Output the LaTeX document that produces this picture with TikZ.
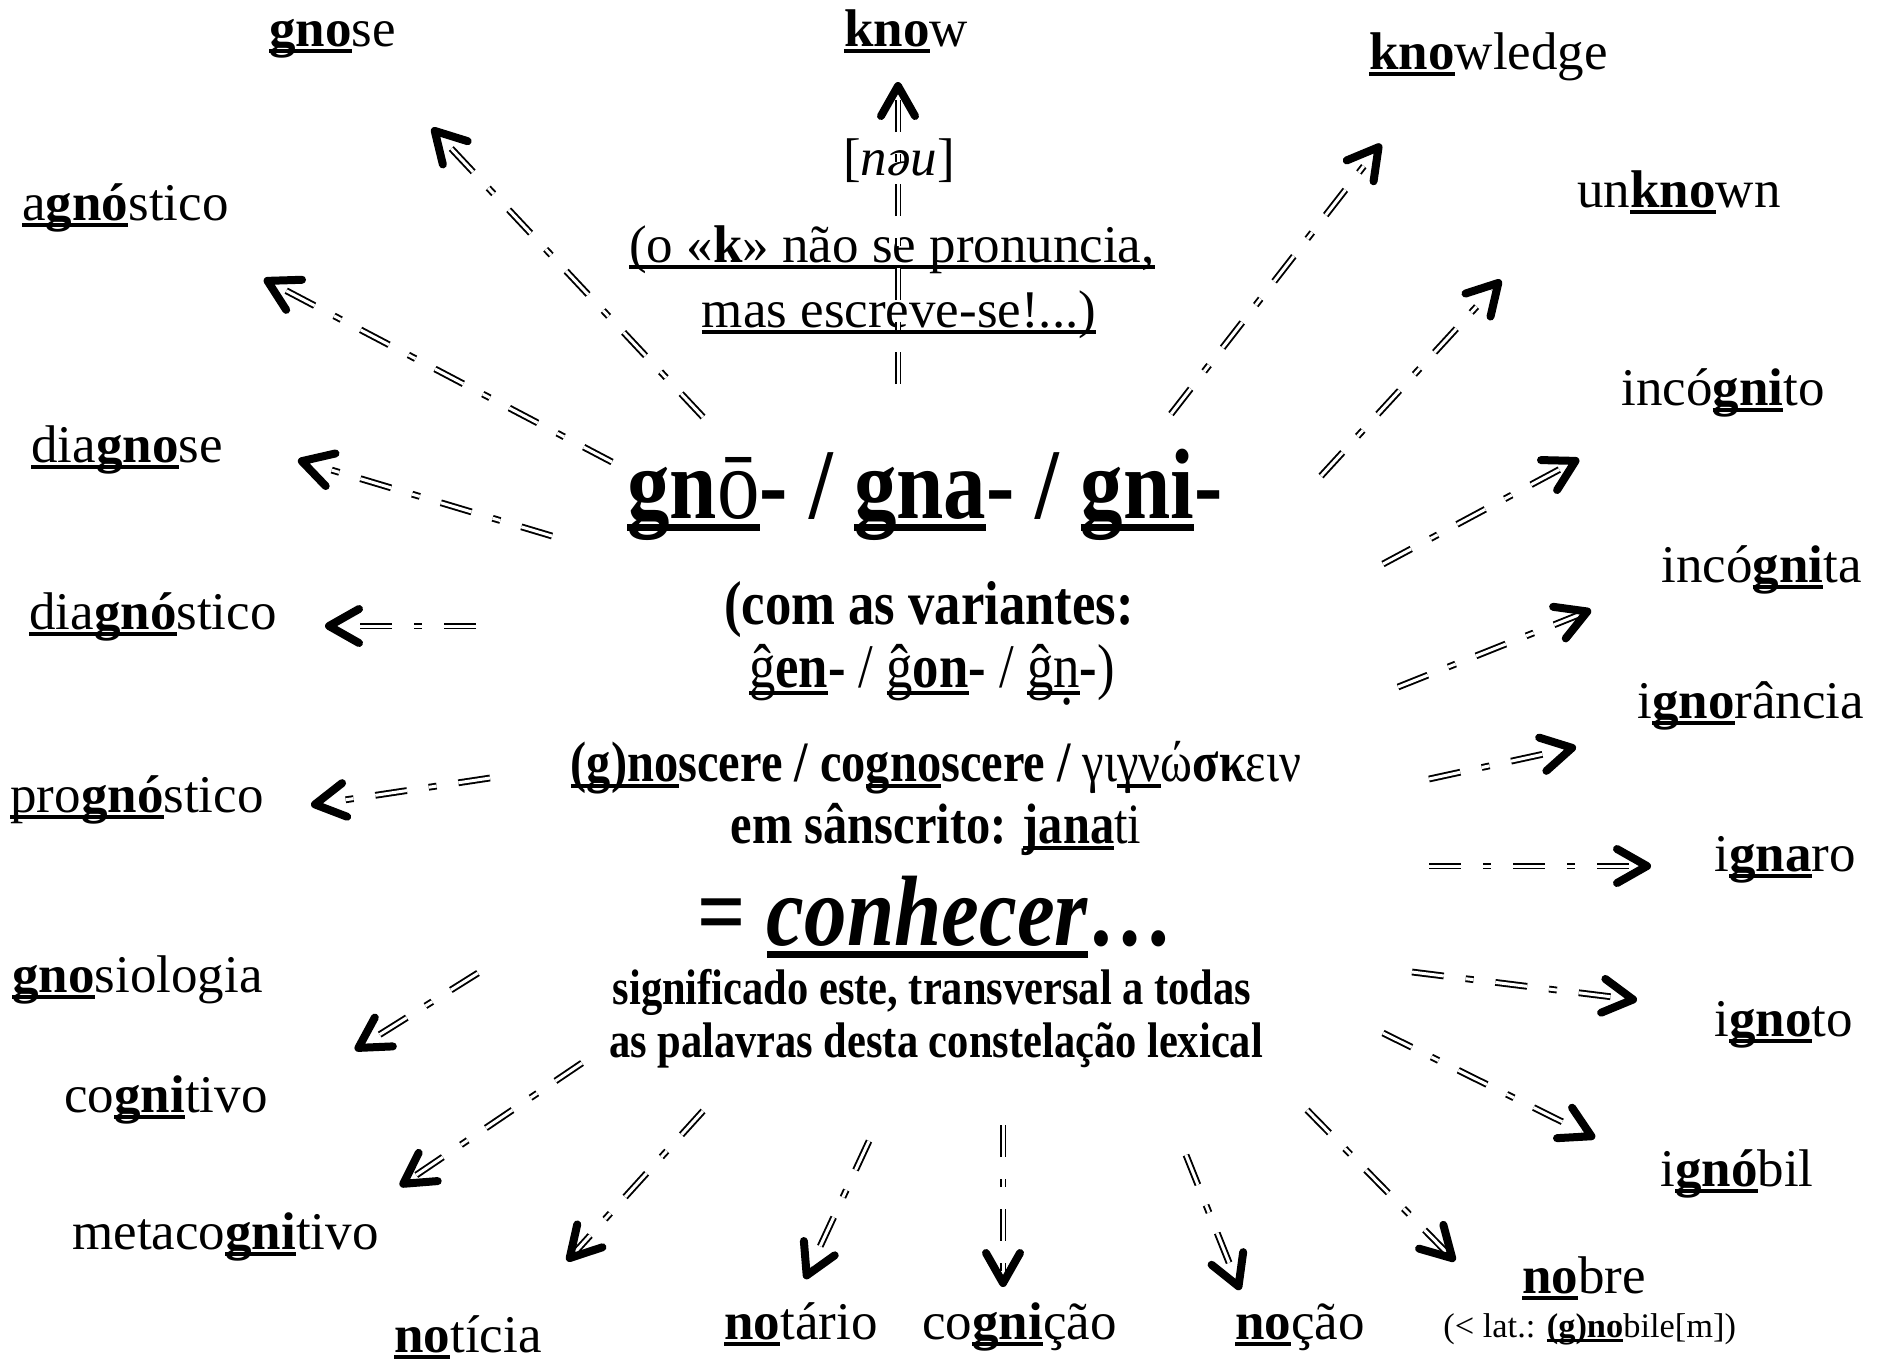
\documentclass[tikz,border=0pt]{standalone}
\usepackage{fontspec}
\setmainfont{Liberation Serif}
\newfontfamily\cfont[FakeStretch=0.85]{Liberation Serif}
\usetikzlibrary{arrows.meta,calc}

\newsavebox\ulbox
\newcommand\undl[1]{\sbox\ulbox{#1}\rlap{\rule[-0.13em]{\wd\ulbox}{0.07em}}\usebox\ulbox}
\newcommand\fs[1]{\fontsize{#1}{#1}\selectfont}
\newcommand\ndot{\ooalign{n\cr\hidewidth\raisebox{-0.6ex}{.}\hidewidth\cr}}

\tikzset{
  word/.style={inner sep=0pt, anchor=base west, font=\fs{26.5}},
  core/.style={inner sep=0pt, anchor=base},
  shaft/.style={double, double distance=1.5pt, line width=0.95pt,
    dash pattern=on 16pt off 11pt on 4pt off 11pt, shorten >=3pt},
  head/.style={-{Straight Barb[length=15pt, width=17pt, line width=4pt, round]}, line width=0.8pt}
}
\newcommand\ligar[2]{\draw[shaft] (#1) -- (#2); \draw[head] ($(#2)!2pt!(#1)$) -- (#2);}

\begin{document}
\begin{tikzpicture} [x=0.5pt, y=-0.5pt]
\useasboundingbox (0,0) rectangle (1883,1362);
% root in the middle
\node [core, font=\fs{26.5}] (nau) at (899,175) {[\textit{nəu}]};
\node [core, font=\fs{26.5}] (k1) at (892,262) {\undl{(o «\textbf{k}» não se pronuncia,}};
\node [core, font=\fs{26.5}] (k2) at (899,327) {\undl{mas escreve-se!...)}};
\node [core, font=\cfont\bfseries\fs{50}] (root) at (925,518)
  {\undl{gn{\mdseries ō}}- / \undl{gna}- / \undl{gni}-};
\node [core, font=\cfont\bfseries\fs{31}] (var1) at (929,624) {(com as variantes:};
\node [core, font=\cfont\fs{31}] (var2) at (932,687)
  {\undl{ĝ\textbf{en}}\textbf{-} / \undl{ĝ\textbf{on}}\textbf{-} / \undl{ĝ\ndot}\textbf{-})};
\node [core, font=\cfont\bfseries\fs{28.5}] (lat1) at (936,781)
  {\undl{(g)no}scere / co\undl{gno}scere / {\mdseries γι\undl{γν}ώ\textbf{σκ}ειν}};
\node [core, font=\cfont\bfseries\fs{28.5}] (lat2) at (936,843) {em sânscrito: \undl{jana}{\mdseries ti}};
\node [core, font=\cfont\bfseries\fs{50}] (mean) at (935,945) {= \undl{\itshape conhecer}…};
\node [core, font=\cfont\bfseries\fs{25}] (gl1) at (932,1004) {significado este, transversal a todas};
\node [core, font=\cfont\bfseries\fs{25}] (gl2) at (936,1057) {as palavras desta constelação lexical};

% words round it
\node [word] (gnose) at (269,46) {\undl{\textbf{gno}}se};
\node [word] (know) at (844,46) {\undl{\textbf{kno}}w};
\node [word] (knowledge) at (1369,69) {\undl{\textbf{kno}}wledge};
\node [word] (agnostico) at (22,220) {\undl{a\textbf{gnó}}stico};
\node [word] (unknown) at (1577,207) {un\undl{\textbf{kno}}wn};
\node [word] (diagnose) at (31,462) {\undl{dia\textbf{gno}}se};
\node [word] (incognito) at (1621,405) {incó\undl{\textbf{gni}}to};
\node [word] (incognita) at (1661,582) {incó\undl{\textbf{gni}}ta};
\node [word] (diagnostico) at (29,629) {\undl{dia\textbf{gnó}}stico};
\node [word] (ignorancia) at (1637,718) {i\undl{\textbf{gno}}rância};
\node [word] (prognostico) at (10,812) {\undl{pro\textbf{gnó}}stico};
\node [word] (ignaro) at (1714,871) {i\undl{\textbf{gna}}ro};
\node [word] (gnosiologia) at (12,992) {\undl{\textbf{gno}}siologia};
\node [word] (ignoto) at (1714,1036) {i\undl{\textbf{gno}}to};
\node [word] (cognitivo) at (64,1112) {co\undl{\textbf{gni}}tivo};
\node [word] (ignobil) at (1660,1186) {i\undl{\textbf{gnó}}bil};
\node [word] (metacognitivo) at (72,1249) {metaco\undl{\textbf{gni}}tivo};
\node [word] (noticia) at (394,1352) {\undl{\textbf{no}}tícia};
\node [word] (notario) at (724,1339) {\undl{\textbf{no}}tário};
\node [word] (cognicao) at (922,1339) {co\undl{\textbf{gni}}ção};
\node [word] (nocao) at (1235,1339) {\undl{\textbf{no}}ção};
\node [word] (nobre) at (1522,1293) {\undl{\textbf{no}}bre};
\node [word, font=\fs{17.2}] (nobile) at (1443,1337) {(< lat.: \undl{\textbf{(g)no}}bile[m])};

% rays: (a) start, (b) tip
\coordinate (a1) at (898,384);   \coordinate (b1) at (898,82);
\coordinate (a2) at (703,417);   \coordinate (b2) at (432,128);
\coordinate (a3) at (612,462);   \coordinate (b3) at (264,279);
\coordinate (a4) at (552,536);   \coordinate (b4) at (298,460);
\coordinate (a5) at (476,626);   \coordinate (b5) at (325,626);
\coordinate (a6) at (490,778);   \coordinate (b6) at (311,805);
\coordinate (a7) at (478,973);   \coordinate (b7) at (355,1050);
\coordinate (a8) at (582,1063);  \coordinate (b8) at (400,1186);
\coordinate (a9) at (703,1111);  \coordinate (b9) at (567,1261);
\coordinate (a10) at (869,1141); \coordinate (b10) at (805,1279);
\coordinate (a11) at (1003,1125);\coordinate (b11) at (1003,1287);
\coordinate (a12) at (1186,1155);\coordinate (b12) at (1240,1290);
\coordinate (a13) at (1307,1110);\coordinate (b13) at (1455,1261);
\coordinate (a14) at (1383,1033);\coordinate (b14) at (1595,1138);
\coordinate (a15) at (1412,972); \coordinate (b15) at (1637,1000);
\coordinate (a16) at (1429,866); \coordinate (b16) at (1651,866);
\coordinate (a17) at (1429,779); \coordinate (b17) at (1576,747);
\coordinate (a18) at (1398,687); \coordinate (b18) at (1591,610);
\coordinate (a19) at (1383,564); \coordinate (b19) at (1579,459);
\coordinate (a20) at (1321,476); \coordinate (b20) at (1501,280);
\coordinate (a21) at (1171,414); \coordinate (b21) at (1381,144);
\ligar{a1}{b1}   \ligar{a2}{b2}   \ligar{a3}{b3}   \ligar{a4}{b4}
\ligar{a5}{b5}   \ligar{a6}{b6}   \ligar{a7}{b7}   \ligar{a8}{b8}
\ligar{a9}{b9}   \ligar{a10}{b10} \ligar{a11}{b11} \ligar{a12}{b12}
\ligar{a13}{b13} \ligar{a14}{b14} \ligar{a15}{b15} \ligar{a16}{b16}
\ligar{a17}{b17} \ligar{a18}{b18} \ligar{a19}{b19} \ligar{a20}{b20}
\ligar{a21}{b21}

\end{tikzpicture}
\end{document}
